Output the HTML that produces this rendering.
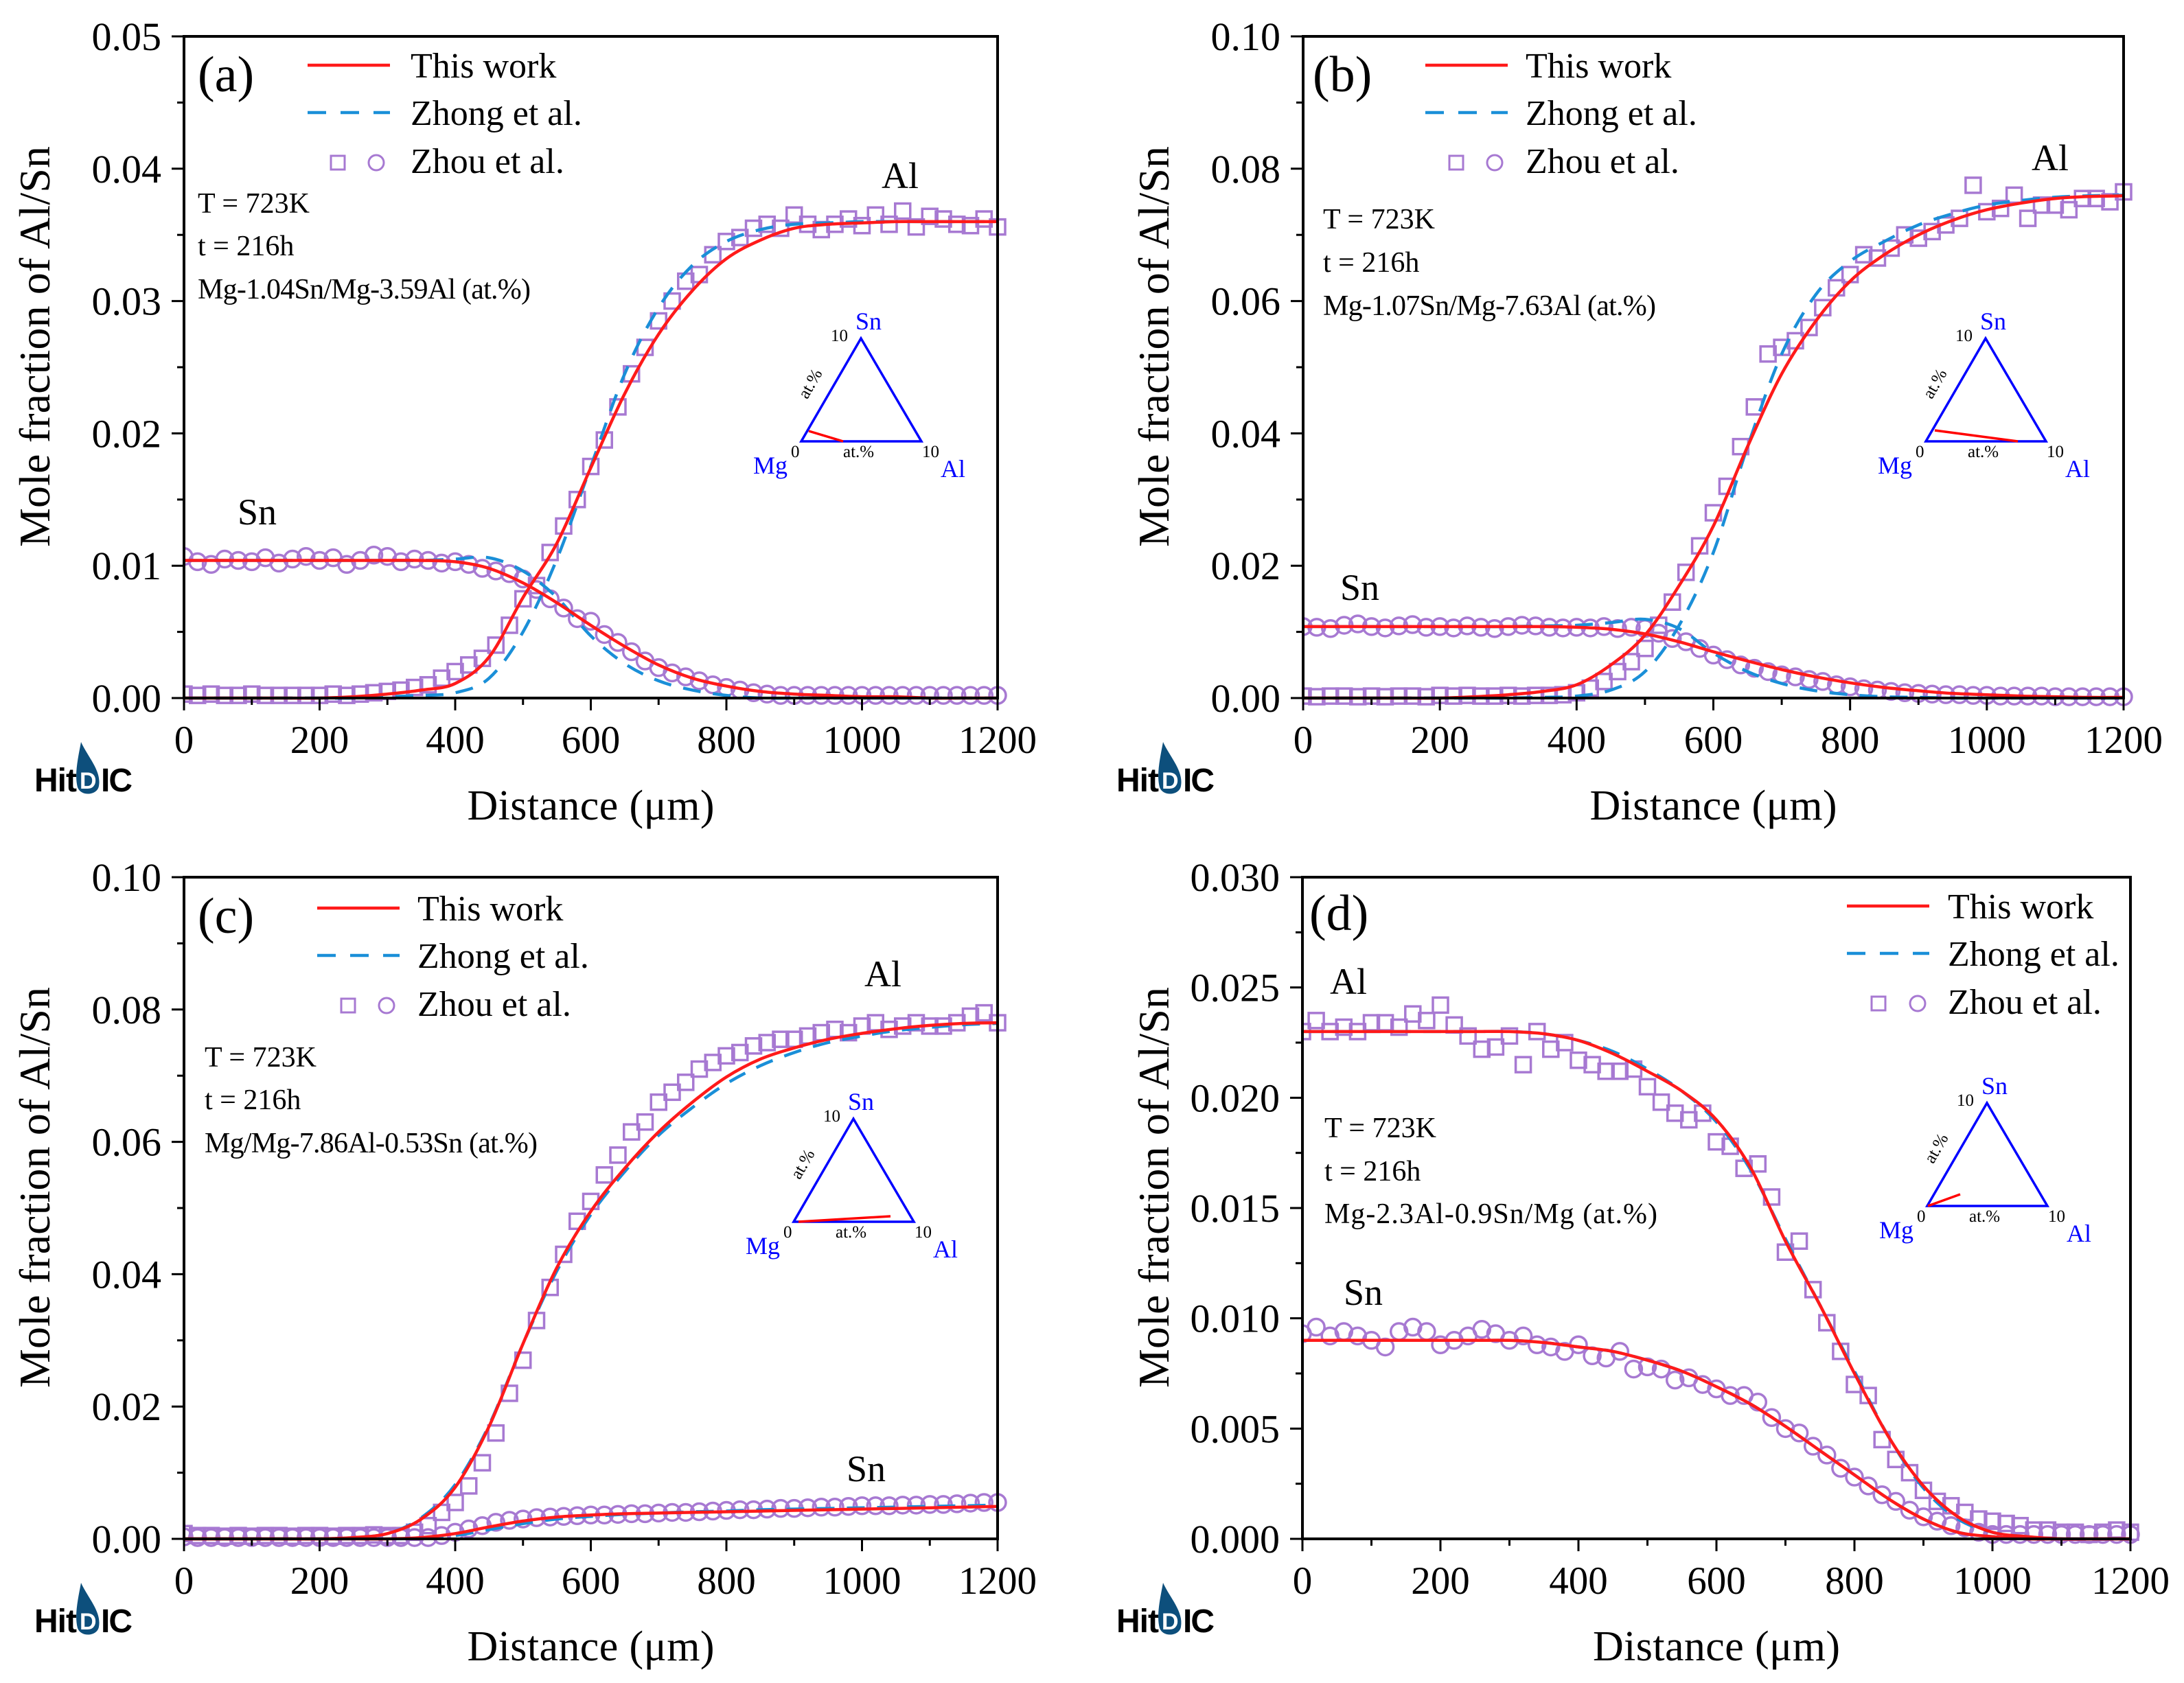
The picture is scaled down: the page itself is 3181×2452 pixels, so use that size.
<!DOCTYPE html>
<html><head><meta charset="utf-8">
<style>
html,body{margin:0;padding:0;background:#fff;}
svg{display:block;}
text{font-family:"Liberation Serif","Times New Roman",serif;}
</style></head>
<body>
<svg id="fig" xmlns="http://www.w3.org/2000/svg" width="3181" height="2452" viewBox="0 0 3181 2452"></svg>
<script>
// ---------- data ----------
const curveX = [0,50,100,150,200,250,300,350,400,450,500,550,600,650,700,750,800,850,900,950,1000,1050,1100,1150,1200];
const scatterX = [0,20,40,60,80,100,120,140,160,180,200,220,240,260,280,300,320,340,360,380,400,420,440,460,480,500,520,540,560,580,600,620,640,660,680,700,720,740,760,780,800,820,840,860,880,900,920,940,960,980,1000,1020,1040,1060,1080,1100,1120,1140,1160,1180,1200];
const xTicks = [0,200,400,600,800,1000,1200];
const yTicksA = [0,0.01,0.02,0.03,0.04,0.05];
const yTicksB = [0,0.02,0.04,0.06,0.08,0.10];
const yTicksC = [0,0.02,0.04,0.06,0.08,0.10];
const yTicksD = [0,0.005,0.010,0.015,0.020,0.025,0.030];

const aAlRed  = [0,0,0,0,0,0.0001,0.0003,0.0006,0.0011,0.0031,0.0076,0.0117,0.0174,0.023,0.0275,0.0308,0.0332,0.0346,0.0355,0.0358,0.0359,0.036,0.036,0.036,0.036];
const aAlBlue = [0,0,0,0,0,0,0.0001,0.0002,0.0004,0.0015,0.005,0.0105,0.0175,0.0245,0.0295,0.0327,0.0345,0.0354,0.0358,0.0359,0.036,0.036,0.036,0.036,0.036];
const aSnRed  = [0.0104,0.0104,0.0104,0.0104,0.0104,0.0104,0.0104,0.0104,0.0103,0.0098,0.0087,0.0072,0.0055,0.0039,0.0025,0.0015,0.0009,0.0005,0.0003,0.0002,0.0001,0.0001,0,0,0];
const aSnBlue = [0.0104,0.0104,0.0104,0.0104,0.0104,0.0104,0.0104,0.0104,0.0105,0.0106,0.0096,0.0076,0.0047,0.0026,0.0013,0.0006,0.0002,0,0,0,0,0,0,0,0];
const aAlPts = [0.0003,0.0002,0.0003,0.0002,0.0002,0.0003,0.0002,0.0002,0.0002,0.0002,
0.0002,0.0003,0.0002,0.0003,0.0004,0.0005,0.0006,0.0008,0.001,0.0015,
0.002,0.0025,0.003,0.004,0.0055,0.0075,0.0085,0.011,0.013,0.015,
0.0175,0.0195,0.022,0.0245,0.0265,0.0285,0.030,0.0315,0.032,0.0335,
0.0345,0.0348,0.0355,0.0358,0.0355,0.0365,0.0358,0.0354,0.0358,0.0362,
0.0357,0.0365,0.0358,0.0368,0.0356,0.0364,0.0362,0.0358,0.0357,0.0362,0.0356];
const aSnPts = [0.0107,0.0103,0.0101,0.0105,0.0104,0.0103,0.0106,0.0102,0.0105,0.0107,
0.0104,0.0106,0.0101,0.0104,0.0108,0.0107,0.0103,0.0105,0.0104,0.0102,
0.0103,0.0101,0.0098,0.0096,0.0094,0.0090,0.0082,0.0075,0.0068,0.006,
0.0058,0.0048,0.0042,0.0035,0.0028,0.0023,0.0019,0.0016,0.0013,0.001,
0.0008,0.0006,0.0004,0.0003,0.0002,0.0002,0.0002,0.0002,0.0002,0.0002,
0.0002,0.0002,0.0002,0.0002,0.0002,0.0002,0.0002,0.0002,0.0002,0.0002,0.0002];

const bAlRed  = [0,0,0,0,0,0.0002,0.0005,0.001,0.002,0.005,0.0095,0.017,0.026,0.038,0.049,0.057,0.063,0.067,0.070,0.0722,0.0738,0.0748,0.0755,0.0758,0.0759];
const bAlBlue = [0,0,0,0,0,0,0,0.0001,0.0003,0.0012,0.004,0.011,0.022,0.038,0.052,0.061,0.066,0.069,0.0715,0.0732,0.0745,0.0752,0.0757,0.0759,0.076];
const bSnRed  = [0.0108,0.0108,0.0108,0.0108,0.0108,0.0108,0.0108,0.0108,0.0107,0.0104,0.0097,0.0085,0.007,0.0056,0.0043,0.0032,0.0023,0.0016,0.0011,0.0007,0.0005,0.0003,0.0002,0.0001,0.0001];
const bSnBlue = [0.0108,0.0108,0.0108,0.0108,0.0108,0.0108,0.0108,0.0109,0.011,0.0114,0.0119,0.0105,0.0068,0.004,0.0022,0.0011,0.0005,0.0002,0.0001,0,0,0,0,0,0];
const bAlPts = [0.0003,0.0002,0.0003,0.0003,0.0002,0.0003,0.0002,0.0003,0.0003,0.0002,
0.0004,0.0003,0.0004,0.0003,0.0003,0.0004,0.0003,0.0004,0.0004,0.0005,
0.0008,0.0015,0.0025,0.004,0.0055,0.0075,0.011,0.0145,0.019,0.023,
0.028,0.032,0.038,0.044,0.052,0.053,0.054,0.056,0.059,0.062,
0.064,0.067,0.0665,0.068,0.070,0.0695,0.0705,0.0715,0.0725,0.0775,
0.0735,0.074,0.076,0.0725,0.0745,0.0745,0.0738,0.0755,0.0755,0.075,0.0765];
const bSnPts = [0.0108,0.0107,0.0105,0.011,0.0112,0.0108,0.0106,0.0109,0.0111,0.0107,
0.0108,0.0106,0.0109,0.0107,0.0105,0.0108,0.011,0.0109,0.0107,0.0106,
0.0107,0.0106,0.0108,0.0105,0.0107,0.0105,0.0098,0.009,0.0085,0.0075,
0.0065,0.0058,0.005,0.0045,0.004,0.0035,0.0032,0.0028,0.0025,0.002,
0.0017,0.0014,0.0012,0.001,0.0008,0.0007,0.0006,0.0005,0.0005,0.0004,
0.0004,0.0003,0.0003,0.0003,0.0003,0.0002,0.0002,0.0002,0.0002,0.0002,0.0002];

const cAlRed  = [0,0,0,0,0,0.0002,0.0008,0.003,0.0078,0.017,0.0295,0.041,0.0495,0.056,0.0615,0.066,0.0698,0.0725,0.0742,0.0755,0.0764,0.0771,0.0776,0.0779,0.078];
const cAlBlue = [0,0,0,0,0,0.0002,0.0008,0.0032,0.0082,0.0172,0.0295,0.0405,0.049,0.0555,0.061,0.0652,0.0688,0.0715,0.0735,0.075,0.076,0.0768,0.0773,0.0777,0.0779];
const cSnRed  = [0,0,0,0,0,0,0,0.0002,0.0008,0.0018,0.0027,0.0033,0.0036,0.0038,0.0039,0.004,0.0041,0.0042,0.0043,0.0044,0.0045,0.0046,0.0047,0.0048,0.0049];
const cSnBlue = [0,0,0,0,0,0,0,0.0001,0.0005,0.0014,0.0023,0.003,0.0034,0.0037,0.0039,0.0041,0.0042,0.0044,0.0045,0.0046,0.0047,0.0048,0.0049,0.005,0.0051];
const cAlPts = [0.0008,0.0005,0.0005,0.0004,0.0005,0.0004,0.0005,0.0005,0.0004,0.0005,
0.0005,0.0004,0.0005,0.0005,0.0006,0.0005,0.0005,0.001,0.002,0.004,
0.0055,0.008,0.0115,0.016,0.022,0.027,0.033,0.038,0.043,0.048,
0.051,0.055,0.058,0.0615,0.063,0.066,0.0675,0.069,0.071,0.072,
0.073,0.0735,0.0745,0.075,0.0755,0.0755,0.076,0.0765,0.077,0.0765,
0.0775,0.078,0.077,0.0775,0.078,0.0775,0.0775,0.078,0.079,0.0795,0.078];
const cSnPts = [0.0003,0.0002,0.0002,0.0002,0.0002,0.0002,0.0002,0.0002,0.0002,0.0002,
0.0002,0.0002,0.0002,0.0002,0.0002,0.0002,0.0002,0.0002,0.0002,0.0005,
0.001,0.0015,0.002,0.0025,0.0028,0.003,0.0032,0.0033,0.0034,0.0035,
0.0036,0.0036,0.0037,0.0038,0.0038,0.0039,0.004,0.004,0.0041,0.0042,
0.0043,0.0044,0.0044,0.0045,0.0046,0.0046,0.0047,0.0048,0.0048,0.0049,
0.005,0.005,0.005,0.0051,0.0051,0.0052,0.0052,0.0053,0.0054,0.0055,0.0055];

const dAlRed  = [0.023,0.023,0.023,0.023,0.023,0.023,0.023,0.0229,0.0226,0.022,0.0212,0.0203,0.019,0.0168,0.0135,0.0106,0.0075,0.0046,0.0024,0.001,0.0003,0.0001,0,0,0];
const dAlBlue = [0.023,0.023,0.023,0.023,0.023,0.023,0.023,0.0229,0.0226,0.0221,0.0213,0.0203,0.0189,0.0167,0.0136,0.0106,0.0076,0.0046,0.0023,0.0009,0.0003,0.0001,0,0,0];
const dSnRed  = [0.009,0.009,0.009,0.009,0.009,0.009,0.009,0.0089,0.0087,0.0085,0.0081,0.0076,0.0069,0.0061,0.0051,0.004,0.0029,0.0018,0.0009,0.0003,0.0001,0,0,0,0];
const dSnBlue = [0.009,0.009,0.009,0.009,0.009,0.009,0.009,0.0089,0.0087,0.0085,0.0081,0.0076,0.0069,0.0061,0.0051,0.004,0.0029,0.0018,0.0009,0.0003,0.0001,0,0,0,0];
const dAlPts = [0.023,0.0235,0.023,0.0232,0.023,0.0234,0.0234,0.0232,0.0238,0.0235,
0.0242,0.0233,0.0228,0.0222,0.0223,0.0228,0.0215,0.023,0.0222,0.0225,
0.0217,0.0215,0.0212,0.0212,0.0213,0.0205,0.0198,0.0193,0.019,0.0193,
0.018,0.0178,0.0168,0.017,0.0155,0.013,0.0135,0.0113,0.0098,0.0085,
0.007,0.0065,0.0045,0.0036,0.003,0.0022,0.0017,0.0015,0.0012,0.0009,
0.0008,0.0007,0.0006,0.0004,0.0004,0.0003,0.0003,0.0002,0.0003,0.0004,0.0003];
const dSnPts = [0.0093,0.0096,0.0092,0.0094,0.0092,0.009,0.0087,0.0094,0.0096,0.0094,
0.0088,0.009,0.0092,0.0095,0.0093,0.009,0.0092,0.0088,0.0087,0.0085,
0.0088,0.0083,0.0082,0.0085,0.0077,0.0078,0.0077,0.0072,0.0073,0.007,
0.0068,0.0065,0.0065,0.0062,0.0055,0.005,0.0048,0.0042,0.0038,0.0032,
0.0028,0.0024,0.002,0.0017,0.0013,0.001,0.0008,0.0006,0.0005,0.0003,
0.0002,0.0002,0.0002,0.0002,0.0002,0.0002,0.0002,0.0002,0.0002,0.0002,0.0002];

// ---------- drawing ----------
const NS = "http://www.w3.org/2000/svg";
const svg = document.getElementById('fig');
function mk(tag, attrs, parent){
  const e = document.createElementNS(NS, tag);
  for (const k in attrs) e.setAttribute(k, attrs[k]);
  (parent||svg).appendChild(e);
  return e;
}
function txt(parent, s, x, y, size, extra){
  const t = mk('text', Object.assign({x:x, y:y, 'font-size':size, fill:'#000'}, extra||{}), parent);
  t.textContent = s;
  return t;
}
function smoothPath(pts){
  let d = 'M' + pts[0][0].toFixed(1) + ',' + pts[0][1].toFixed(1);
  for (let i = 0; i < pts.length - 1; i++){
    const p0 = pts[Math.max(0,i-1)], p1 = pts[i], p2 = pts[i+1], p3 = pts[Math.min(pts.length-1,i+2)];
    const c1x = p1[0] + (p2[0]-p0[0])/6, c1y = p1[1] + (p2[1]-p0[1])/6;
    const c2x = p2[0] - (p3[0]-p1[0])/6, c2y = p2[1] - (p3[1]-p1[1])/6;
    d += ' C' + c1x.toFixed(1)+','+c1y.toFixed(1)+' '+c2x.toFixed(1)+','+c2y.toFixed(1)+' '+p2[0].toFixed(1)+','+p2[1].toFixed(1);
  }
  return d;
}

const PURPLE = '#a779d2', RED = '#ff1a1a', BLUE = '#1a8fd8';

const panels = [
 {id:'a', L:268, R:1453, T:53, B:1017, ymax:0.05, yt:yTicksA, dec:2,
  alR:aAlRed, alB:aAlBlue, snR:aSnRed, snB:aSnBlue, alP:aAlPts, snP:aSnPts,
  leg:[448,598,95,492,548], lab:[288,133], ann:[288,310,372,435], comp:'Mg-1.04Sn/Mg-3.59Al (at.%)',
  alLab:[1284,274], snLab:[346,764], tri:[1167,643], red:[[1178,628],[1228,643]], ytx:72, logo:[48,1153]},
 {id:'b', L:1898, R:3093, T:53, B:1017, ymax:0.10, yt:yTicksB, dec:2,
  alR:bAlRed, alB:bAlBlue, snR:bSnRed, snB:bSnBlue, alP:bAlPts, snP:bSnPts,
  leg:[2076,2222,95,2121,2177], lab:[1912,133], ann:[1927,333,396,459], comp:'Mg-1.07Sn/Mg-7.63Al (at.%)',
  alLab:[2959,248], snLab:[1952,874], tri:[2805,643], red:[[2818,627],[2939,643]], ytx:1702, logo:[1624,1153]},
 {id:'c', L:268, R:1453, T:1278, B:2242, ymax:0.10, yt:yTicksC, dec:2,
  alR:cAlRed, alB:cAlBlue, snR:cSnRed, snB:cSnBlue, alP:cAlPts, snP:cSnPts,
  leg:[462,608,1323,507,563], lab:[288,1359], ann:[298,1554,1616,1679], comp:'Mg/Mg-7.86Al-0.53Sn (at.%)',
  alLab:[1259,1437], snLab:[1233,2158], tri:[1156,1780], red:[[1163,1780],[1297,1772]], ytx:72, logo:[48,2378]},
 {id:'d', L:1897, R:3103, T:1278, B:2242, ymax:0.030, yt:yTicksD, dec:3,
  alR:dAlRed, alB:dAlBlue, snR:dSnRed, snB:dSnBlue, alP:dAlPts, snP:dSnPts,
  leg:[2690,2837,1320,2736,2793], lab:[1907,1355], ann:[1929,1657,1720,1782], comp:'Mg-2.3Al-0.9Sn/Mg (at.%)',
  alLab:[1937,1448], snLab:[1957,1901], tri:[2807,1757], red:[[2808,1757],[2855,1740]], ytx:1702, logo:[1624,2378]}
];

panels.forEach(P => {
  const g = mk('g', {});
  
  
  const xs = v => P.L + (v/1200)*(P.R-P.L);
  const ys = v => P.B - (v/P.ymax)*(P.B-P.T);

  const cp = mk('clipPath', {id:'clip'+P.id}, g);
  mk('rect', {x:P.L, y:P.T-20, width:P.R-P.L+20, height:P.B-P.T+40}, cp);

  // scatter
  const sg = mk('g', {fill:'none', stroke:PURPLE, 'stroke-width':3.5, 'clip-path':'url(#clip'+P.id+')'}, g);
  
  
  scatterX.forEach((x,i) => {
    const sq = mk('rect', {x:xs(x)-11, y:ys(P.alP[i])-11, width:22, height:22}, sg);
    
    
  });
  scatterX.forEach((x,i) => {
    const ci = mk('circle', {cx:xs(x), cy:ys(P.snP[i]), r:12}, sg);
    
    
  });

  // curves
  const mkCurve = (arr, color, dash, name) => {
    const p = mk('path', {d:smoothPath(curveX.map((x,i)=>[xs(x), ys(arr[i])])), fill:'none', stroke:color, 'stroke-width':4.5}, g);
    if (dash) p.setAttribute('stroke-dasharray', '26,18');
    
    
  };
  mkCurve(P.alB, BLUE, true, 'zhong-al-curve');
  mkCurve(P.snB, BLUE, true, 'zhong-sn-curve');
  mkCurve(P.alR, RED, false, 'this-work-al-curve');
  mkCurve(P.snR, RED, false, 'this-work-sn-curve');

  // frame
  const fr = mk('rect', {x:P.L, y:P.T, width:P.R-P.L, height:P.B-P.T, fill:'none', stroke:'#000', 'stroke-width':4}, g);
  
  

  for (let v = 0; v <= 1200; v += 100){
    const major = v % 200 === 0;
    mk('line', {x1:xs(v), x2:xs(v), y1:P.B, y2:P.B+(major?18:10), stroke:'#000', 'stroke-width':3}, g);
  }
  xTicks.forEach(v => {
    const t = txt(g, String(v), xs(v), P.B+80, 57, {'text-anchor':'middle'});
    
    
  });
  const step = P.yt[1]-P.yt[0];
  P.yt.forEach((v,i) => {
    mk('line', {x1:P.L-18, x2:P.L, y1:ys(v), y2:ys(v), stroke:'#000', 'stroke-width':3}, g);
    if (i < P.yt.length-1) mk('line', {x1:P.L-10, x2:P.L, y1:ys(v+step/2), y2:ys(v+step/2), stroke:'#000', 'stroke-width':3}, g);
    const t = txt(g, v.toFixed(P.dec), P.L-33, ys(v)+20, 58, {'text-anchor':'end'});
    
    
  });

  const xt = txt(g, 'Distance (\u03bcm)', (P.L+P.R)/2, P.B+177, 62, {'text-anchor':'middle', textLength:360});
  
  
  const cy = (P.T+P.B)/2 - 30;
  const yt = txt(g, 'Mole fraction of Al/Sn', P.ytx, cy, 64, {'text-anchor':'middle', transform:'rotate(-90 '+P.ytx+' '+cy+')', textLength:584});
  
  

  const pl = txt(g, '('+P.id+')', P.lab[0], P.lab[1], 74);
  
  

  const lg = mk('g', {}, g);
  
  
  const [lx, tx, ly, sqx, cix] = P.leg;
  mk('line', {x1:lx, x2:lx+120, y1:ly, y2:ly, stroke:RED, 'stroke-width':4.5}, lg);
  mk('line', {x1:lx, x2:lx+120, y1:ly+69, y2:ly+69, stroke:BLUE, 'stroke-width':4.5, 'stroke-dasharray':'27,21'}, lg);
  mk('rect', {x:sqx-10, y:ly+132, width:20, height:20, fill:'none', stroke:PURPLE, 'stroke-width':3}, lg);
  mk('circle', {cx:cix, cy:ly+142, r:11, fill:'none', stroke:PURPLE, 'stroke-width':3}, lg);
  const l1 = txt(lg, 'This work', tx, ly+18, 52);
  
  
  const l2 = txt(lg, 'Zhong et al.', tx, ly+87, 52);
  
  
  const l3 = txt(lg, 'Zhou et al.', tx, ly+157, 52);
  
  

  const ag = mk('g', {}, g);
  
  
  txt(ag, 'T = 723K', P.ann[0], P.ann[1], 42);
  txt(ag, 't = 216h', P.ann[0], P.ann[2], 42);
  txt(ag, P.comp, P.ann[0], P.ann[3], 42, {textLength:485});

  const al = txt(g, 'Al', P.alLab[0], P.alLab[1], 54);
  
  
  const sn = txt(g, 'Sn', P.snLab[0], P.snLab[1], 54);
  
  

  const tg = mk('g', {}, g);
  
  
  const [mx, my] = P.tri;
  mk('path', {d:'M'+mx+','+my+' L'+(mx+175)+','+my+' L'+(mx+87)+','+(my-150)+' Z', fill:'none', stroke:'#0000ff', 'stroke-width':3.5}, tg);
  mk('line', {x1:P.red[0][0], y1:P.red[0][1], x2:P.red[1][0], y2:P.red[1][1], stroke:'#ff0000', 'stroke-width':3.5}, tg);
  txt(tg, 'Sn', mx+79, my-163, 36, {fill:'#0000ff'});
  txt(tg, 'Mg', mx-70, my+47, 36, {fill:'#0000ff'});
  txt(tg, 'Al', mx+203, my+52, 36, {fill:'#0000ff'});
  txt(tg, '10', mx+43, my-146, 25);
  txt(tg, '0', mx-15, my+23, 25);
  txt(tg, '10', mx+176, my+23, 25);
  txt(tg, 'at.%', mx+61, my+23, 25);
  txt(tg, 'at.%', mx+20, my-80, 25, {'text-anchor':'middle', transform:'rotate(-60 '+(mx+20)+' '+(my-80)+')'});

  const [gx, gy] = P.logo;
  const lo = mk('g', {}, g);
  
  
  const h = mk('text', {x:gx+2, y:gy, 'font-size':48, 'font-weight':'bold', fill:'#000', style:'font-family:"Liberation Sans",sans-serif', textLength:62}, lo);
  h.textContent = 'Hit';
  mk('path', {d:'M'+(gx+70)+','+(gy-72)+' C'+(gx+80)+','+(gy-50)+' '+(gx+100)+','+(gy-30)+' '+(gx+96)+','+(gy-8)+' C'+(gx+94)+','+(gy+6)+' '+(gx+70)+','+(gy+8)+' '+(gx+65)+','+(gy-6)+' C'+(gx+60)+','+(gy-25)+' '+(gx+66)+','+(gy-50)+' '+(gx+70)+','+(gy-72)+' Z', fill:'#0d4f7c'}, lo);
  const dd = mk('text', {x:gx+68, y:gy-4, 'font-size':34, 'font-weight':'bold', fill:'#fff', style:'font-family:"Liberation Sans",sans-serif'}, lo);
  dd.textContent = 'D';
  const ic = mk('text', {x:gx+99, y:gy, 'font-size':48, 'font-weight':'bold', fill:'#000', style:'font-family:"Liberation Sans",sans-serif', textLength:46}, lo);
  ic.textContent = 'IC';
});
</script>
</body></html>
